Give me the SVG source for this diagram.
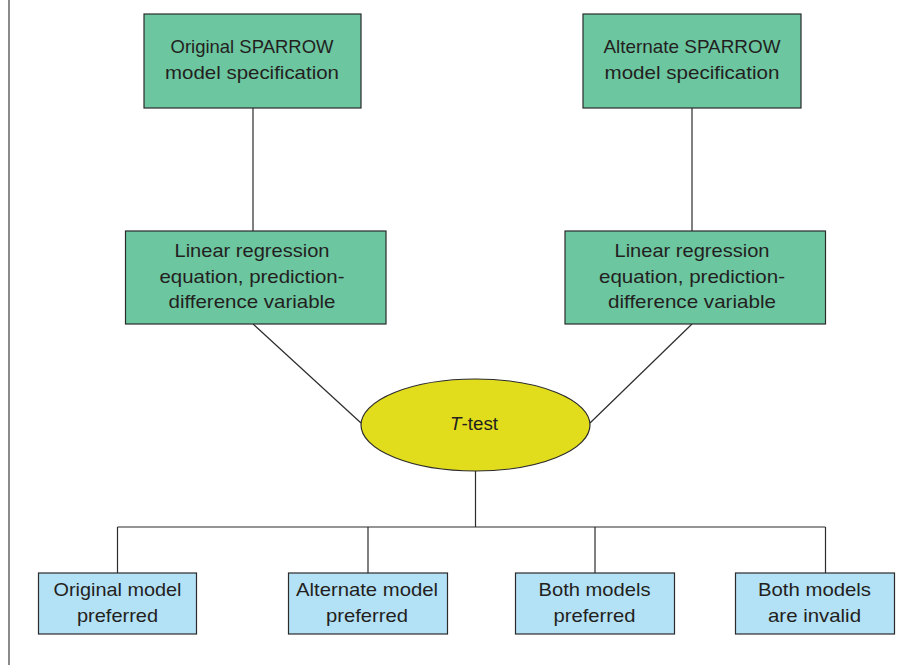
<svg xmlns="http://www.w3.org/2000/svg" width="916" height="665" viewBox="0 0 916 665">
<style>
.g{fill:#6cc6a0;stroke:#2b2b2b;stroke-width:1.2}
.b{fill:#b3e1f6;stroke:#2b2b2b;stroke-width:1.2}
.e{fill:#e1dc1c;stroke:#2b2b2b;stroke-width:1.2}
text{font-family:"Liberation Sans",Arial,sans-serif;font-size:18.5px;fill:#231f20;text-anchor:middle}
.c line{stroke:#2b2b2b;stroke-width:1.2;fill:none}
</style>
<rect width="916" height="665" fill="#ffffff"/>
<line x1="9" y1="0" x2="9" y2="665" stroke="#8a8a8a" stroke-width="2"/>
<g class="c" id="connectors">
<line x1="253" y1="108" x2="253" y2="231"/>
<line x1="692" y1="108" x2="692" y2="231"/>
<line x1="253" y1="324" x2="361" y2="423"/>
<line x1="692" y1="324" x2="590" y2="423"/>
<line x1="475.5" y1="471" x2="475.5" y2="527"/>
<line x1="117.5" y1="527" x2="825.5" y2="527"/>
<line x1="117.5" y1="527" x2="117.5" y2="573"/>
<line x1="368" y1="527" x2="368" y2="573"/>
<line x1="595" y1="527" x2="595" y2="573"/>
<line x1="825.5" y1="527" x2="825.5" y2="573"/>
</g>
<g id="orig-spec">
<rect class="g" x="144" y="14" width="217" height="94"/>
<text x="252" y="53" textLength="163" lengthAdjust="spacingAndGlyphs">Original SPARROW</text>
<text x="252" y="79" textLength="174" lengthAdjust="spacingAndGlyphs">model specification</text>
</g>
<g id="alt-spec">
<rect class="g" x="583" y="14" width="218" height="94"/>
<text x="692" y="53" textLength="177" lengthAdjust="spacingAndGlyphs">Alternate SPARROW</text>
<text x="692" y="79" textLength="175" lengthAdjust="spacingAndGlyphs">model specification</text>
</g>
<g id="orig-lr">
<rect class="g" x="125.5" y="231" width="260.5" height="93"/>
<text x="252" y="257" textLength="155" lengthAdjust="spacingAndGlyphs">Linear regression</text>
<text x="252" y="283" textLength="185" lengthAdjust="spacingAndGlyphs">equation, prediction-</text>
<text x="252" y="308" textLength="167" lengthAdjust="spacingAndGlyphs">difference variable</text>
</g>
<g id="alt-lr">
<rect class="g" x="565" y="231" width="260.5" height="93"/>
<text x="692" y="257" textLength="155" lengthAdjust="spacingAndGlyphs">Linear regression</text>
<text x="692" y="283" textLength="186" lengthAdjust="spacingAndGlyphs">equation, prediction-</text>
<text x="692" y="308" textLength="168" lengthAdjust="spacingAndGlyphs">difference variable</text>
</g>
<g id="ttest">
<ellipse class="e" cx="475.5" cy="425" rx="114.5" ry="46"/>
<text x="474" y="430" textLength="48" lengthAdjust="spacingAndGlyphs"><tspan font-style="italic">T</tspan>-test</text>
</g>
<g id="out1">
<rect class="b" x="38.5" y="573" width="158" height="61"/>
<text x="117.5" y="596" textLength="128" lengthAdjust="spacingAndGlyphs">Original model</text>
<text x="117.5" y="622" textLength="81" lengthAdjust="spacingAndGlyphs">preferred</text>
</g>
<g id="out2">
<rect class="b" x="288.5" y="573" width="159" height="61"/>
<text x="367" y="596" textLength="142" lengthAdjust="spacingAndGlyphs">Alternate model</text>
<text x="367" y="622" textLength="82" lengthAdjust="spacingAndGlyphs">preferred</text>
</g>
<g id="out3">
<rect class="b" x="515.5" y="573" width="159" height="61"/>
<text x="594.5" y="596" textLength="112" lengthAdjust="spacingAndGlyphs">Both models</text>
<text x="594.5" y="622" textLength="82" lengthAdjust="spacingAndGlyphs">preferred</text>
</g>
<g id="out4">
<rect class="b" x="735.5" y="573" width="159" height="61"/>
<text x="814.5" y="596" textLength="113" lengthAdjust="spacingAndGlyphs">Both models</text>
<text x="814.5" y="622" textLength="93" lengthAdjust="spacingAndGlyphs">are invalid</text>
</g>
</svg>
